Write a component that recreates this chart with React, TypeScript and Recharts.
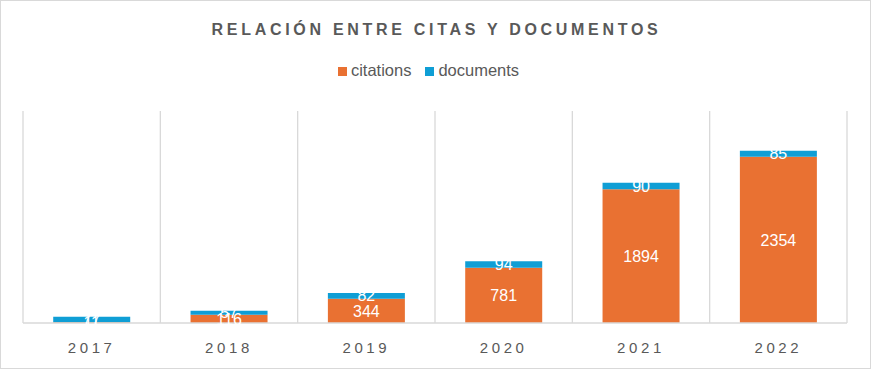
import React from "react";
import { BarChart, Bar, XAxis, YAxis, CartesianGrid, Legend, LabelList } from "recharts";

const years = ["2017", "2018", "2019", "2020", "2021", "2022"];
const citations = [11, 116, 344, 781, 1894, 2354];
const documents = [77, 57, 82, 94, 90, 85];
const gridTicks = [0, 1, 2, 3, 4, 5, 6];

const data = years.map((y, i) => ({ year: y, idx: i + 0.5, citations: citations[i], documents: documents[i] }));

const ORANGE = "#E97132";
const BLUE = "#0F9ED5";
const TEXT = "#595959";
const FONT = "'Liberation Sans', Arial, sans-serif";

export default function App() {
  return (
    <div
      style={{
        position: "absolute",
        left: 0,
        top: 0,
        width: 871,
        height: 369,
        boxSizing: "border-box",
        border: "1px solid #d9d9d9",
        background: "#fff",
        fontFamily: FONT,
      }}
    >
      <div
        style={{
          position: "absolute",
          left: 0,
          top: 19,
          width: 871,
          textAlign: "center",
          fontSize: 16,
          fontWeight: "bold",
          letterSpacing: 3.7,
          color: TEXT,
          lineHeight: "20px",
        }}
      >
        RELACIÓN ENTRE CITAS Y DOCUMENTOS
      </div>
      <div style={{ position: "absolute", left: -1, top: -1 }}>
        <BarChart
          width={871}
          height={369}
          data={data}
          margin={{ top: 92, right: 24, bottom: 0, left: 23 }}
          barCategoryGap="22%"
        >
          <XAxis xAxisId="grid" type="number" dataKey="idx" domain={[0, 6]} ticks={gridTicks} hide />
          <CartesianGrid xAxisId="grid" horizontal={false} vertical stroke="#d9d9d9" strokeWidth={1.3} />
          <XAxis
            xAxisId="cat"
            dataKey="year"
            height={46}
            stroke="#d9d9d9"
            strokeWidth={1.5}
            tickLine={false}
            tickMargin={13}
            tick={{ fill: TEXT, fontSize: 15, letterSpacing: 3.6, fontFamily: FONT }}
          />
          <YAxis domain={[0, 3000]} hide />
          <Legend
            verticalAlign="top"
            iconType="square"
            iconSize={9}
            wrapperStyle={{ top: 61, left: 0, width: 871, fontSize: 16.5, fontFamily: FONT }}
            formatter={(v: string) => <span style={{ color: TEXT, marginRight: 4 }}>{v}</span>}
          />
          <Bar xAxisId="cat" dataKey="citations" name="citations" stackId="a" fill={ORANGE} isAnimationActive={false}>
            <LabelList dataKey="citations" position="center" fill="#fff" fontSize={16} fontFamily={FONT} />
          </Bar>
          <Bar xAxisId="cat" dataKey="documents" name="documents" stackId="a" fill={BLUE} isAnimationActive={false}>
            <LabelList dataKey="documents" position="center" fill="#fff" fontSize={16} fontFamily={FONT} />
          </Bar>
        </BarChart>
      </div>
    </div>
  );
}
